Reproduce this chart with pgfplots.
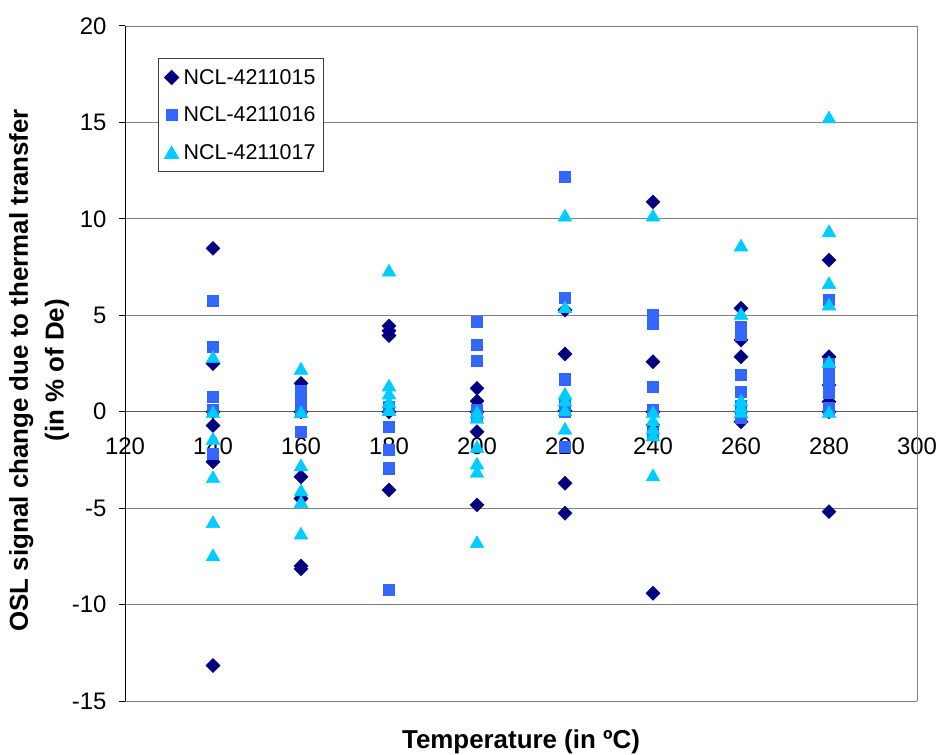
\documentclass[border=0pt]{standalone}
\usepackage{pgfplots}
\pgfplotsset{compat=1.18}
\usepackage{fontspec}
\setmainfont{Liberation Sans}
\definecolor{s1}{HTML}{000080}
\definecolor{s2}{HTML}{3366FF}
\definecolor{s3}{HTML}{00CCFF}
\definecolor{gridc}{HTML}{808080}
\begin{document}
\begin{tikzpicture}
\path[use as bounding box] (0,0) rectangle (940bp,755bp);
\begin{axis}[
  at={(125bp,54bp)}, anchor=south west,
  scale only axis, width=792bp, height=675bp,
  xmin=120, xmax=300, ymin=-15, ymax=20,
  xtick={120,140,...,300}, ytick={-15,-10,...,20},
  axis y line*=left, axis x line*=middle,
  hide obscured x ticks=false, hide obscured y ticks=false,
  ymajorgrids, grid style={gridc, line width=0.9bp},
  y axis line style={black, line width=1bp, -},
  x axis line style={gridc!70!black, line width=1bp, -},
  xtick style={draw=none},
  ytick style={black, line width=1bp},
  tick align=outside, major tick length=6bp,
  /pgf/number format/assume math mode=true,
  ticklabel style={font=\fontsize{24}{28}\selectfont},
  xticklabel style={anchor=north, yshift=-17bp},
  yticklabel style={anchor=east, xshift=-9bp},
  xlabel={Temperature (in ºC)},
  xlabel style={at={(rel axis cs:0.5,-0.0607)}, anchor=center, font=\fontsize{26}{30}\selectfont\bfseries},
  ylabel={OSL signal change due to thermal transfer\\(in \% of De)},
  ylabel style={at={(rel axis cs:-0.1086,0.49)}, anchor=center, align=center, font=\fontsize{26}{36}\selectfont\bfseries},
  legend style={at={(rel axis cs:0.0417,0.953)}, anchor=north west, draw=gridc!50!black, line width=1bp,
    font=\fontsize{21.5}{25}\selectfont, row sep=17bp, inner xsep=6bp, inner ysep=9bp, cells={anchor=west},
    /tikz/every odd column/.append style={column sep=3bp}},
  clip=false,
]
\draw[gridc, line width=1bp] (rel axis cs:1,0) -- (rel axis cs:1,1);
\addplot[only marks, mark=square*, mark size=5bp, mark options={rotate=45, fill=s1, draw=s1}] coordinates {
(140,8.47) (140,2.5) (140,0) (140,-0.72) (140,-2.59) (140,-13.16)
(160,1.47) (160,0) (160,-3.37) (160,-4.5) (160,-8.0) (160,-8.15)
(180,4.45) (180,4.2) (180,3.95) (180,0) (180,-4.06)
(200,1.21) (200,0.55) (200,0) (200,-1.04) (200,-4.83)
(220,5.27) (220,2.99) (220,0.05) (220,-3.71) (220,-5.26)
(240,10.88) (240,2.59) (240,0) (240,-0.69) (240,-9.41)
(260,5.36) (260,3.72) (260,2.85) (260,0) (260,-0.52)
(280,7.86) (280,2.85) (280,1.38) (280,0.52) (280,0) (280,-5.18)
};
\addlegendentry{NCL-4211015}
\addplot[only marks, mark=square*, mark size=5.6bp, mark options={fill=s2, draw=s2}] coordinates {
(140,5.75) (140,3.37) (140,0.78) (140,0.09) (140,-2.16)
(160,1.1) (160,0.6) (160,0.2) (160,0) (160,-1.04)
(180,0.26) (180,0.1) (180,-0.78) (180,-1.98) (180,-2.93) (180,-9.24)
(200,4.66) (200,3.46) (200,2.64) (200,0.1) (200,-0.2)
(220,12.18) (220,5.93) (220,1.69) (220,0.35) (220,0) (220,-1.81)
(240,5.0) (240,4.55) (240,1.3) (240,0.09) (240,-1.1)
(260,4.4) (260,4.0) (260,1.9) (260,1.04) (260,0.3) (260,0) (260,-0.3)
(280,5.79) (280,2.5) (280,2.0) (280,1.5) (280,1.0) (280,0.18)
};
\addlegendentry{NCL-4211016}
\addplot[only marks, mark=triangle*, mark size=8bp, mark options={fill=s3, draw=s3, yshift=-2bp}] coordinates {
(140,2.85) (140,0) (140,-1.38) (140,-3.37) (140,-5.7) (140,-7.42)
(160,2.25) (160,0) (160,-2.76) (160,-4.06) (160,-4.66) (160,-6.3)
(180,7.34) (180,1.38) (180,0.96) (180,0.52) (180,0.1)
(200,0) (200,-0.3) (200,-1.8) (200,-2.67) (200,-3.1) (200,-6.74)
(220,10.19) (220,5.44) (220,0.95) (220,0.6) (220,0.1) (220,-0.86)
(240,10.19) (240,0) (240,-0.43) (240,-0.86) (240,-1.21) (240,-3.28)
(260,8.64) (260,5.1) (260,0.6) (260,0.26) (260,0)
(280,15.28) (280,9.38) (280,6.69) (280,5.58) (280,2.59) (280,0)
};
\addlegendentry{NCL-4211017}
\end{axis}
\end{tikzpicture}
\end{document}
